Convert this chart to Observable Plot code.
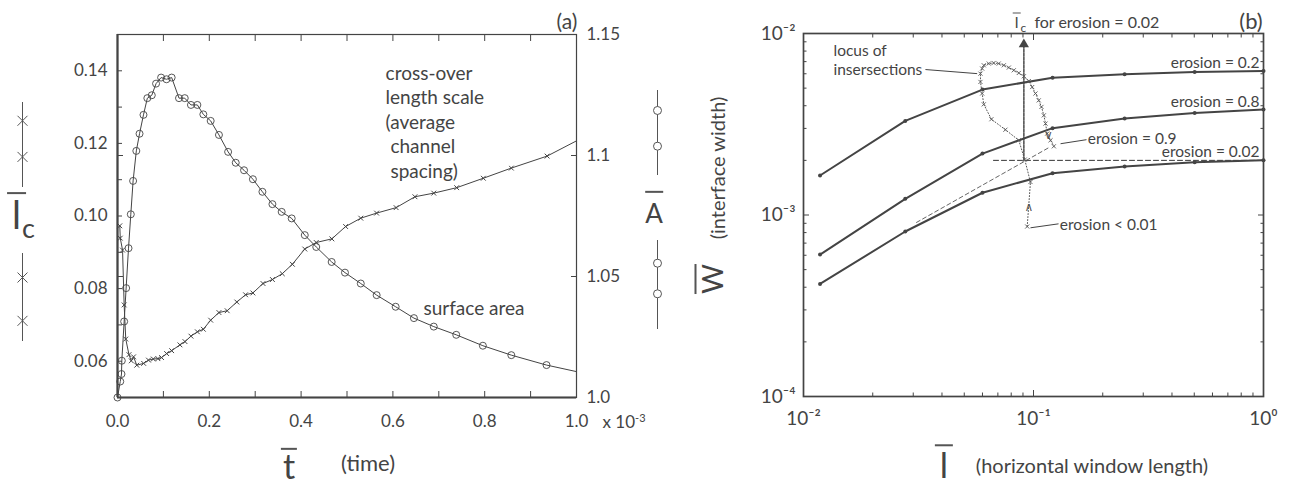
<!DOCTYPE html>
<html><head><meta charset="utf-8">
<script src="https://cdn.jsdelivr.net/npm/d3@7"></script>
<script src="https://cdn.jsdelivr.net/npm/@observablehq/plot@0.6"></script>
<style>
body{margin:0;background:#fff;}
#chart{position:relative;width:1293px;height:485px;overflow:hidden;font-family:Lato,'Open Sans',sans-serif;color:#444;background:#fff;}
#chart svg{position:absolute;}
.lbl{position:absolute;white-space:nowrap;line-height:1;transform:translate(-50%,-50%);}
.bar{display:inline-block;border-top:2px solid #555;}
</style></head><body><div id="chart"></div>
<script>
// ---------------- panel (a) data ----------------
const tCross = [0.005,0.006,0.011,0.0145,0.018,0.025,0.030,0.035,0.042,0.057,0.0675,0.078,0.088,0.096,0.107,0.118,0.136,0.147,0.160,0.174,0.187,0.203,0.221,0.239,0.260,0.279,0.295,0.317,0.3375,0.359,0.381,0.408,0.433,0.467,0.497,0.530,0.5645,0.607,0.648,0.689,0.739,0.797,0.858,0.936,1.0];
const lcCross = [0.0973,0.0939,0.0906,0.0755,0.0661,0.0618,0.0601,0.0612,0.0589,0.0594,0.0603,0.0606,0.0607,0.0610,0.0621,0.0629,0.0645,0.0654,0.0669,0.0681,0.0688,0.0713,0.0734,0.0739,0.0763,0.0783,0.0788,0.0814,0.0825,0.0841,0.0867,0.0909,0.0927,0.0937,0.0971,0.0994,0.1008,0.1023,0.1053,0.1063,0.1078,0.1104,0.1132,0.1165,0.1207];
const tArea = [0,0.006,0.0087,0.0094,0.0145,0.0188,0.024,0.029,0.034,0.041,0.048,0.0566,0.065,0.0747,0.084,0.095,0.1067,0.118,0.134,0.1465,0.160,0.174,0.187,0.203,0.221,0.241,0.2576,0.2757,0.295,0.3157,0.3375,0.3577,0.3795,0.408,0.433,0.4666,0.4956,0.530,0.5646,0.606,0.6458,0.689,0.738,0.796,0.858,0.9347,1.0];
const areaA = [1.0,1.0066,1.0097,1.0152,1.0314,1.0452,1.0617,1.0757,1.0895,1.1019,1.109,1.1168,1.1237,1.1249,1.1297,1.1322,1.1315,1.1322,1.1237,1.1237,1.1209,1.1209,1.117,1.1143,1.1085,1.1015,1.097,1.0939,1.0902,1.085,1.0799,1.0767,1.074,1.0671,1.0622,1.056,1.0516,1.0471,1.0423,1.0375,1.0328,1.0293,1.0259,1.0214,1.0175,1.0134,1.0107];
const tTicks = [0,0.2,0.4,0.6,0.8,1.0];
const tMinorTicks = [0,0.1,0.2,0.3,0.4,0.5,0.6,0.7,0.8,0.9,1.0];
const lcTicks = [0.06,0.08,0.10,0.12,0.14];
const lcMinorTicks = [0.05,0.06,0.07,0.08,0.09,0.10,0.11,0.12,0.13,0.14,0.15];
const aTicks = [1.0,1.05,1.1,1.15];
const aTickLabels = ["1.0","1.05","1.1","1.15"];
const crossNote = ["cross-over\nlength scale\n(average\n\u00a0channel\n\u00a0spacing)"];
const crossNoteAt = [0.584, 0.1262];
const areaNote = ["surface area"];
const areaNoteAt = [0.6667, 1.0366];

// ---------------- panel (b) data ----------------
const windowLength = [0.0118,0.0277,0.060,0.121,0.249,0.502,1.0];
const erosionLevels = ["0.2","0.8","0.02"];
const w_e02 = [1.65e-3,3.30e-3,4.91e-3,5.71e-3,5.96e-3,6.14e-3,6.21e-3];
const w_e08 = [6.05e-4,1.228e-3,2.18e-3,3.01e-3,3.40e-3,3.65e-3,3.81e-3];
const w_e002 = [4.17e-4,8.11e-4,1.326e-3,1.70e-3,1.85e-3,1.95e-3,2.0e-3];
const locusL = [0.0939,0.0970,0.0916,0.0863,0.0755,0.0656,0.0608,0.0598,0.0588,0.0588,0.0598,0.0608,0.0639,0.0671,0.0706,0.0743,0.0781,0.0821,0.0863,0.0908,0.0954,0.0987,0.1020,0.1054,0.1083,0.1109,0.1128,0.1147,0.1186,0.1226];
const locusW = [8.64e-4,1.52e-3,2.02e-3,2.58e-3,2.95e-3,3.37e-3,4.07e-3,4.67e-3,5.41e-3,6.01e-3,6.41e-3,6.68e-3,6.83e-3,6.88e-3,6.83e-3,6.68e-3,6.49e-3,6.27e-3,6.06e-3,5.81e-3,5.47e-3,5.07e-3,4.67e-3,4.28e-3,3.94e-3,3.54e-3,3.19e-3,2.81e-3,2.58e-3,2.39e-3];
const chevronText = ["\u2227", "\u2228"];       // direction marks on the locus
const chevronL = [0.0954, 0.1162];
const chevronW = [1.10e-3, 2.75e-3];
const lcLevelL = [0.067, 1.0];        // horizontal dashed guide (erosion = 0.02 plateau)
const lcLevelW = [2.0e-3, 2.0e-3];
const diagL = [0.031, 0.1186];        // dashed diagonal guide
const diagW = [9.1e-4, 2.38e-3];
const arrowL = [0.0908, 0.0908];      // vertical arrow to l_c
const arrowW = [2.0e-3, 8.72e-3];
const noteText = ["locus of\ninsersections", "erosion = 0.9", "erosion < 0.01"];
const noteL = [0.0135, 0.1723, 0.1302];
const noteW = [7.21e-3, 2.67e-3, 8.94e-4];
const leadL1 = [0.0339, 0.1311, 0.0970];
const leadW1 = [6.33e-3, 2.47e-3, 8.50e-4];
const leadL2 = [0.0569, 0.170, 0.1285];
const leadW2 = [6.01e-3, 2.60e-3, 8.94e-4];
const decadesX = [0.01, 0.1, 1];
const decadesY = [1e-4, 1e-3, 1e-2];

// ---------------- build ----------------
const INK = "#444";
const FONT = "Lato, 'Open Sans', sans-serif";
const chart = document.getElementById("chart");
function put(svg, left, top) { svg.style.left = left + "px"; svg.style.top = top + "px"; chart.appendChild(svg); }
function label(html, cx, cy, css = "") {
  const d = document.createElement("div"); d.className = "lbl"; d.innerHTML = html;
  d.style.cssText += css; d.style.left = cx + "px"; d.style.top = cy + "px"; chart.appendChild(d);
}
const blank = () => "";

const crossRows = tCross.map((t, i) => ({t, lc: lcCross[i]}));
const areaRows = tArea.map((t, i) => ({t, A: areaA[i]}));

const common = {width: 650, height: 485, marginLeft: 117, marginRight: 74, marginTop: 34, marginBottom: 88};

const plotLc = Plot.plot({
  ...common,
  style: {fontFamily: FONT, fontSize: "17px", color: INK, background: "transparent", overflow: "visible"},
  x: {domain: [0, 1], axis: null},
  y: {domain: [0.05, 0.15], axis: null},
  marks: [
    Plot.frame({stroke: INK, strokeWidth: 1.2}),
    Plot.ruleX([0], {stroke: INK, strokeWidth: 2.2}),
    Plot.ruleY([0.05], {stroke: INK, strokeWidth: 2.2}),
    Plot.axisY({ticks: lcMinorTicks, anchor: "left", tickSize: 5, dx: 5, tickFormat: blank, label: null}),
    Plot.axisY({ticks: lcTicks, anchor: "left", tickSize: 0, tickPadding: 10, tickFormat: d3.format(".2f"), label: null}),
    Plot.axisX({ticks: tMinorTicks, anchor: "bottom", tickSize: 6, dy: -6, tickFormat: blank, label: null}),
    Plot.axisX({ticks: tMinorTicks, anchor: "top", tickSize: 6, dy: 6, tickFormat: blank, label: null}),
    Plot.axisX({ticks: tTicks, anchor: "bottom", tickSize: 0, tickPadding: 17, tickFormat: d3.format(".1f"), label: null}),
    Plot.line(crossRows, {x: "t", y: "lc", stroke: INK, strokeWidth: 1}),
    Plot.dot(crossRows.slice(0, -1), {x: "t", y: "lc", symbol: "times", r: 2.3, stroke: INK, strokeWidth: 1}),
    Plot.text(crossNote, {x: crossNoteAt[0], y: crossNoteAt[1], text: d => d, textAnchor: "start", lineAnchor: "middle", lineHeight: 1.29, fontSize: 19, fill: INK})
  ]
});
put(plotLc, 0, 0);

const plotA = Plot.plot({
  ...common,
  style: {fontFamily: FONT, fontSize: "17px", color: INK, background: "transparent", overflow: "visible"},
  x: {domain: [0, 1], axis: null},
  y: {domain: [1.0, 1.15], axis: null},
  marks: [
    Plot.axisY({ticks: aTicks, anchor: "right", tickSize: 6, dx: -6, tickFormat: blank, label: null}),
    Plot.axisY({ticks: aTicks, anchor: "left", tickSize: 6, dx: 6, tickFormat: blank, label: null}),
    Plot.axisY({ticks: aTicks, anchor: "right", tickSize: 0, tickPadding: 10, tickFormat: (d, i) => aTickLabels[i], label: null}),
    Plot.line(areaRows, {x: "t", y: "A", stroke: INK, strokeWidth: 1}),
    Plot.dot(areaRows.slice(0, -1), {x: "t", y: "A", r: 3.5, stroke: INK, fill: "none", strokeWidth: 0.9}),
    Plot.text(areaNote, {x: areaNoteAt[0], y: areaNoteAt[1], text: d => d, textAnchor: "start", fontSize: 19, fill: INK})
  ]
});
put(plotA, 0, 0);

// legend glyphs beside the y labels
function glyph(symbol, marks, r, cx, top, h) {
  const svg = Plot.plot({
    width: 24, height: h, margin: 0, style: {background: "transparent", overflow: "visible"},
    x: {domain: [-1, 1], axis: null}, y: {domain: [0, 1], axis: null},
    marks: [
      Plot.ruleX([0], {stroke: "#555", strokeWidth: 1}),
      Plot.dot(marks, {x: 0, y: d => d, symbol, r, stroke: "#555", fill: "white", strokeWidth: 1})
    ]
  });
  put(svg, cx - 12, top);
}
glyph("times", [0.785, 0.36], 4.6, 22.3, 101.7, 85);
glyph("times", [0.727, 0.235], 4.6, 22.3, 252.7, 88);
glyph("circle", [0.765, 0.345], 4, 656.7, 90, 85);
glyph("circle", [0.745, 0.401], 4, 656.7, 240, 89);

// panel (b)
const curveRows = [w_e02, w_e08, w_e002].flatMap((ws, k) => windowLength.map((L, i) => ({L, w: ws[i], erosion: erosionLevels[k]})));
const lastRows = curveRows.filter(d => d.L === windowLength[windowLength.length - 1]);
const locusRows = locusL.map((L, i) => ({L, w: locusW[i]}));
const noteRows = noteText.map((text, i) => ({text, L: noteL[i], w: noteW[i], L1: leadL1[i], w1: leadW1[i], L2: leadL2[i], w2: leadW2[i]}));
const chevronRows = chevronText.map((text, i) => ({text, L: chevronL[i], w: chevronW[i]}));
const minorX = decadesX.slice(0, -1).flatMap(d => d3.range(2, 10).map(k => d * k));
const minorY = decadesY.slice(0, -1).flatMap(d => d3.range(2, 10).map(k => d * k));
const sup = {"-": "\u207b", "0": "\u2070", "1": "\u00b9", "2": "\u00b2", "3": "\u00b3", "4": "\u2074"};
const pow10 = d => "10" + String(Math.round(Math.log10(d))).split("").map(c => sup[c]).join("");

const plotB = Plot.plot({
  width: 643, height: 485, marginLeft: 153, marginRight: 30, marginTop: 33, marginBottom: 89,
  style: {fontFamily: FONT, fontSize: "19px", color: INK, background: "transparent", overflow: "visible"},
  x: {type: "log", domain: [0.01, 1], axis: null},
  y: {type: "log", domain: [1e-4, 1e-2], axis: null},
  marks: [
    Plot.frame({stroke: INK, strokeWidth: 1.7}),
    Plot.axisX({ticks: decadesX, anchor: "bottom", tickSize: 6, dy: -6, tickFormat: blank, label: null}),
    Plot.axisX({ticks: minorX, anchor: "bottom", tickSize: 3.5, dy: -3.5, tickFormat: blank, label: null}),
    Plot.axisX({ticks: decadesX, anchor: "top", tickSize: 6, dy: 6, tickFormat: blank, label: null}),
    Plot.axisX({ticks: minorX, anchor: "top", tickSize: 3.5, dy: 3.5, tickFormat: blank, label: null}),
    Plot.axisY({ticks: decadesY, anchor: "left", tickSize: 6, dx: 6, tickFormat: blank, label: null}),
    Plot.axisY({ticks: minorY, anchor: "left", tickSize: 3.5, dx: 3.5, tickFormat: blank, label: null}),
    Plot.axisY({ticks: decadesY, anchor: "right", tickSize: 6, dx: -6, tickFormat: blank, label: null}),
    Plot.axisY({ticks: minorY, anchor: "right", tickSize: 3.5, dx: -3.5, tickFormat: blank, label: null}),
    Plot.axisX({ticks: decadesX, anchor: "bottom", tickSize: 0, tickPadding: 15, tickFormat: pow10, label: null}),
    Plot.axisY({ticks: decadesY, anchor: "left", tickSize: 0, tickPadding: 8, tickFormat: pow10, label: null}),
    Plot.line(lcLevelL.map((L, i) => ({L, w: lcLevelW[i]})), {x: "L", y: "w", stroke: "#333", strokeWidth: 1, strokeDasharray: "5,3"}),
    Plot.line(diagL.map((L, i) => ({L, w: diagW[i]})), {x: "L", y: "w", stroke: "#555", strokeWidth: 0.9, strokeDasharray: "4,3"}),
    Plot.line(arrowL.map((L, i) => ({L, w: arrowW[i]})), {x: "L", y: "w", stroke: "#555", strokeWidth: 1.6, strokeDasharray: "3,1"}),
    Plot.dot([{L: arrowL[1], w: arrowW[1]}], {x: "L", y: "w", symbol: "triangle", r: 3.8, fill: "#444", stroke: "none"}),
    Plot.line(curveRows, {x: "L", y: "w", z: "erosion", stroke: INK, strokeWidth: 2}),
    Plot.dot(curveRows, {x: "L", y: "w", r: 2, fill: INK}),
    Plot.line(locusRows, {x: "L", y: "w", stroke: "#555", strokeWidth: 1, strokeDasharray: "1,2"}),
    Plot.dot(locusRows, {x: "L", y: "w", symbol: "times", r: 2, stroke: "#555", strokeWidth: 0.9}),
    Plot.text(chevronRows, {x: "L", y: "w", text: "text", fontSize: 12, fill: "#555", fontFamily: "DejaVu Sans"}),
    Plot.text(lastRows, {x: "L", y: "w", text: d => `erosion = ${d.erosion}`, textAnchor: "end", dx: -4, dy: -8, fontSize: 15.5, fill: INK}),
    Plot.link(noteRows, {x1: "L1", y1: "w1", x2: "L2", y2: "w2", stroke: INK, strokeWidth: 1}),
    Plot.text(noteRows, {x: "L", y: "w", text: "text", textAnchor: "start", lineAnchor: "middle", lineHeight: 1.25, fontSize: 15.5, fill: INK})
  ]
});
put(plotB, 650, 0);

// titles and axis labels
label("(a)", 567, 20, "font-size:21px;");
label("(b)", 1251, 20.5, "font-size:22px;");
label("x 10<sup style='font-size:11px'>-3</sup>", 624, 421, "font-size:17px;");
label("<span class='bar' style='padding:0 5px;line-height:1.1'>l</span><span style='font-size:27px;margin-left:-4px;position:relative;top:9px'>c</span>", 21, 214, "font-size:38px;");
label("<span class='bar' style='line-height:1.55'>A</span>", 654, 212, "font-size:26px;");
label("<span class='bar' style='padding:0 2px;line-height:0.95'>t</span>", 289, 465, "font-size:34px;line-height:0.8;");
label("(time)", 368, 463, "font-size:22px;");
label("<span class='bar' style='padding:0 5px;line-height:1.07'>l</span>", 944, 464, "font-size:35px;");
label("(horizontal window length)", 1092, 465, "font-size:20px;");
label("<span class='bar' style='line-height:1.0'>W</span>", 710, 279, "font-size:29px;transform:translate(-50%,-50%) rotate(-90deg);");
label("(interface width)", 717, 167.5, "font-size:20px;transform:translate(-50%,-50%) rotate(-90deg);");
label("<span class='bar' style='padding:0 2px;line-height:0.95;border-top-width:1.5px'>l</span><span style='font-size:12px;position:relative;top:4px'>c</span>&nbsp; for erosion = 0.02", 1086, 21, "font-size:16px;");
</script></body></html>
